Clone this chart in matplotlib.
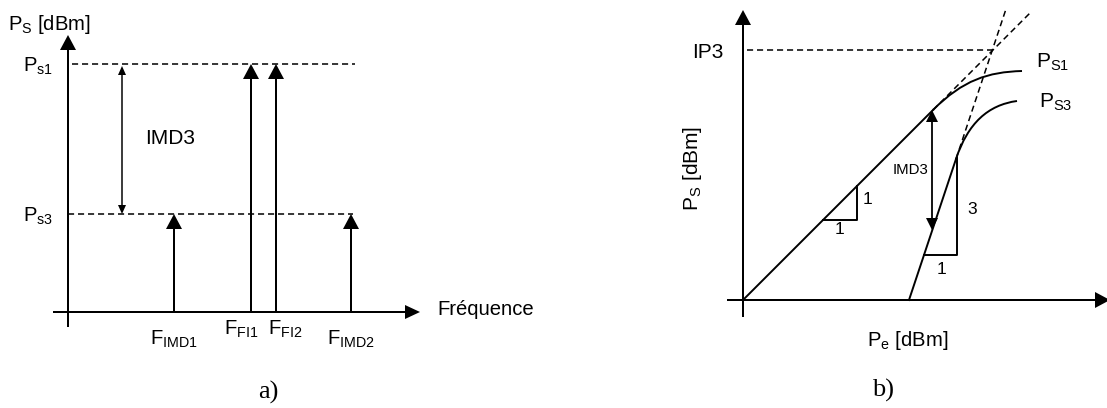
import matplotlib
matplotlib.use("Agg")
import matplotlib.pyplot as plt
from matplotlib.patches import FancyArrow, PathPatch
from matplotlib.path import Path

plt.rcParams['font.family'] = ['Liberation Sans', 'DejaVu Sans']
plt.rcParams['mathtext.fontset'] = 'custom'
plt.rcParams['mathtext.rm'] = 'Liberation Sans'
plt.rcParams['mathtext.it'] = 'Liberation Sans:italic'
plt.rcParams['lines.scale_dashes'] = False

# ---- panel a) : spectrum (units are pixels from the axis origin)
freq_pos = [106, 183, 208, 283]
freq_level = [98, 248, 248, 98]
freq_labels = [r'$\mathregular{F_{IMD1}}$', r'$\mathregular{F_{FI1}}$',
               r'$\mathregular{F_{FI2}}$', r'$\mathregular{F_{IMD2}}$']
level_names = [r'$\mathregular{P_{s1}}$', r'$\mathregular{P_{s3}}$']
level_values = [248, 98]

# ---- panel b) : IP3 construction (units are pixels from the axis origin)
fund_lin_x = [0, 190]
fund_lin_y = [0, 190]
fund_ext_x = [190, 287]
fund_ext_y = [190, 287]
fund_curve = [(190, 190), (220, 220), (245, 228), (279, 229)]
im3_lin_x = [166, 213]
im3_lin_y = [0, 141]
im3_ext_x = [213, 263]
im3_ext_y = [141, 291]
im3_curve = [(213, 141), (225, 177), (245, 195), (274, 199)]
ip3_level = 250
tri1_x = [80, 114, 114]
tri1_y = [80, 80, 114]
tri2_x = [181, 214, 214]
tri2_y = [45, 45, 142]

W, H = 1107, 408
LW = 1.4
FS = 14.6
fig = plt.figure(figsize=(W / 100, H / 100), dpi=100)

ax_a = fig.add_axes([0, 0, 1, 1])
ax_a.set_xlim(-68, W - 68)
ax_a.set_ylim(-(H - 312), 312)
ax_a.axis('off')

ax_b = fig.add_axes([0, 0, 1, 1])
ax_b.patch.set_alpha(0)
ax_b.set_xlim(-743, W - 743)
ax_b.set_ylim(-(H - 300), 300)
ax_b.axis('off')


def arrow(ax, x0, y0, x1, y1, hl=15, hw=8, w=2.0):
    ax.add_patch(FancyArrow(x0, y0, x1 - x0, y1 - y0, width=w, head_width=2 * hw,
                            head_length=hl, length_includes_head=True,
                            color='black', lw=0))


def dashed(ax, xs, ys):
    ax.plot(xs, ys, color='black', lw=1.1, dashes=(4.4, 2.8))


# panel a
arrow(ax_a, 0, -15, 0, 277)
arrow(ax_a, -15, 0, 352, 0, hl=15, hw=7)
dashed(ax_a, [4, 287], [level_values[0]] * 2)
dashed(ax_a, [0, 285], [level_values[1]] * 2)
for x, lv in zip(freq_pos, freq_level):
    arrow(ax_a, x, 0, x, lv)
# IMD3 double arrow
mid = (level_values[0] + level_values[1]) / 2
arrow(ax_a, 54, mid, 54, level_values[0] - 2, hl=9, hw=4, w=1.5)
arrow(ax_a, 54, mid, 54, level_values[1], hl=9, hw=4, w=1.5)
ax_a.text(77, 174, 'IMD3', fontsize=15, va='center', ha='left')

lab_dx = [0, -10, 9, 0]
for x, lv, lab, dx in zip(freq_pos, freq_level, freq_labels, lab_dx):
    by = -23 if lv == max(freq_level) else -33
    ax_a.text(x + dx, by, lab, fontsize=FS, ha='center', va='baseline')
for name, lv in zip(level_names, level_values):
    ax_a.text(-45, lv - 2, name, fontsize=FS, ha='left', va='center')
ax_a.text(-60, 288, r'$\mathregular{P_S}$ [dBm]', fontsize=FS, ha='left', va='center')
ax_a.text(369, -3, 'Fréquence', fontsize=FS, ha='left', va='baseline')
ax_a.text(200, -80, 'a)', fontsize=19, ha='center', va='center',
          family=['Liberation Serif', 'DejaVu Serif'])

# panel b
arrow(ax_b, 0, -17, 0, 290)
arrow(ax_b, -16, 0, 367, 0)
ax_b.plot(fund_lin_x, fund_lin_y, color='black', lw=LW)
ax_b.plot(im3_lin_x, im3_lin_y, color='black', lw=LW)
dashed(ax_b, fund_ext_x, fund_ext_y)
dashed(ax_b, im3_ext_x, im3_ext_y)
dashed(ax_b, [4, 250], [ip3_level] * 2)
codes = [Path.MOVETO, Path.CURVE4, Path.CURVE4, Path.CURVE4]
ax_b.add_patch(PathPatch(Path(fund_curve, codes), fc='none', ec='black', lw=LW))
ax_b.add_patch(PathPatch(Path(im3_curve, codes), fc='none', ec='black', lw=LW))
ax_b.plot(tri1_x, tri1_y, color='black', lw=LW)
ax_b.plot(tri2_x, tri2_y, color='black', lw=LW)
# IMD3 double arrow
arrow(ax_b, 189, 130, 189, 190, hl=12, hw=6, w=1.8)
arrow(ax_b, 189, 130, 189, 70, hl=12, hw=6, w=1.8)
ax_b.text(167, 130, 'IMD3', fontsize=10.8, ha='center', va='center')
ax_b.text(125, 101, '1', fontsize=12.5, ha='center', va='center')
ax_b.text(96, 70, '1', fontsize=12.5, ha='center', va='center')
ax_b.text(229, 90, '3', fontsize=12.5, ha='center', va='center')
ax_b.text(198, 31, '1', fontsize=12.5, ha='center', va='center')
ax_b.text(-51, 242, 'IP3', fontsize=15, ha='left', va='baseline')
ax_b.text(293, 232, r'$\mathregular{P_{S1}}$', fontsize=15, ha='left', va='baseline')
ax_b.text(296, 192, r'$\mathregular{P_{S3}}$', fontsize=15, ha='left', va='baseline')
ax_b.text(-50, 132, r'$\mathregular{P_S}$ [dBm]', fontsize=15, ha='center', va='center',
          rotation=90)
ax_b.text(165, -41, r'$\mathregular{P_e}$ [dBm]', fontsize=FS, ha='center', va='center')
ax_b.text(140, -90, 'b)', fontsize=19, ha='center', va='center',
          family=['Liberation Serif', 'DejaVu Serif'])

fig.savefig('out.png', dpi=100, facecolor='white')
